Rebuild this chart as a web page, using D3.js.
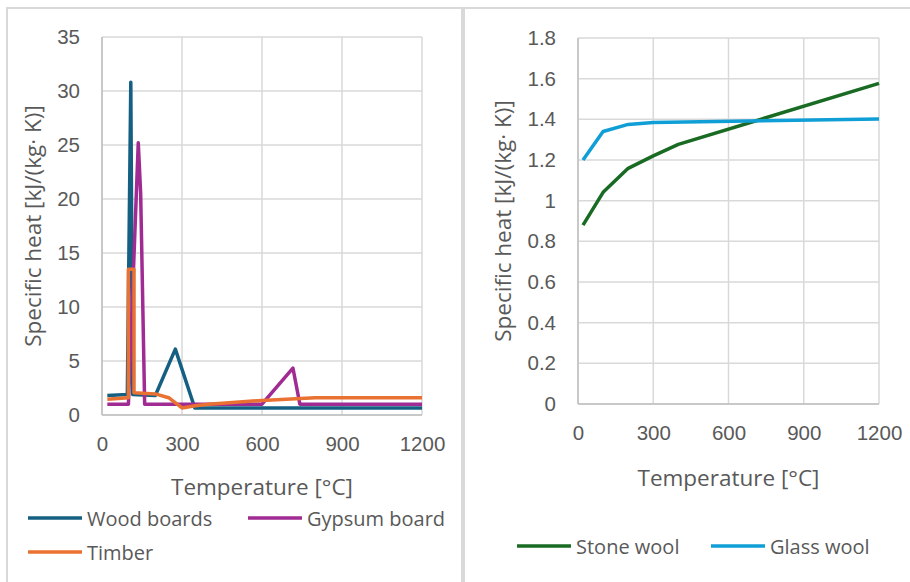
<!DOCTYPE html>
<html>
<head>
<meta charset="utf-8">
<script src="https://cdn.jsdelivr.net/npm/d3@7"></script>
<style>
    body { margin: 0; background: #fff; }
    svg { display: block; font-family: "Open Sans", sans-serif; }
    .tick text { fill: #595959; font-size: 20.5px; }
    .title { fill: #595959; font-size: 22.5px; }
    .legend text { fill: #595959; font-size: 20px; }
</style>
</head>
<body>
<svg id="chart" width="910" height="582"></svg>
<script>
// temperatures / values
var wood_t = [20, 95, 108, 115, 200, 275, 348, 1200];
var wood_v = [1.8, 1.9, 30.8, 1.9, 1.8, 6.1, 0.65, 0.65];
var gypsum_t = [20, 99, 136, 145, 160, 600, 716, 742, 1200];
var gypsum_v = [1.0, 1.0, 25.2, 20.5, 1.0, 1.0, 4.35, 1.0, 1.0];
var timber_t = [20, 99, 99, 120, 120, 200, 250, 300, 350, 400, 600, 800, 1200];
var timber_v = [1.45, 1.6, 13.5, 13.5, 2.05, 1.95, 1.6, 0.65, 0.85, 1.0, 1.35, 1.6, 1.6];

var stone_t = [20, 100, 200, 300, 400, 1200];
var stone_v = [0.88, 1.041, 1.159, 1.22, 1.277, 1.577];
var glass_t = [20, 100, 200, 300, 1200];
var glass_v = [1.2, 1.34, 1.375, 1.384, 1.402];

var x_ticks = [0, 300, 600, 900, 1200];
var left_y_ticks = [0, 5, 10, 15, 20, 25, 30, 35];
var right_y_ticks = [0, 0.2, 0.4, 0.6, 0.8, 1, 1.2, 1.4, 1.6, 1.8];

var x_title = 'Temperature [°C]';
var y_title = 'Specific heat [kJ/(kg· K)]';

function zip(t, v) {
    return t.map(function (d, i) { return [d, v[i]]; });
}

var svg = d3.select('#chart');

// panel borders
svg.append('rect').attr('x', 7).attr('y', 8).attr('width', 455).attr('height', 600)
    .attr('fill', 'none').attr('stroke', '#d9d9d9').attr('stroke-width', 2);
svg.append('rect').attr('x', 464).attr('y', 8).attr('width', 460).attr('height', 600)
    .attr('fill', 'none').attr('stroke', '#d9d9d9').attr('stroke-width', 2);

function draw_chart(c) {
    var x = d3.scaleLinear().domain([0, 1200]).range([c.x0, c.x1]);
    var y = d3.scaleLinear().domain([0, c.ymax]).range([c.y0, c.y1]);
    var g = svg.append('g');

    // grid
    g.append('g').selectAll('line').data(c.yticks).enter().append('line')
        .attr('x1', c.x0).attr('x2', c.x1)
        .attr('y1', function (d) { return y(d); }).attr('y2', function (d) { return y(d); })
        .attr('stroke', '#d9d9d9').attr('stroke-width', 1.5);
    g.append('g').selectAll('line').data(x_ticks).enter().append('line')
        .attr('y1', c.y0).attr('y2', c.y1)
        .attr('x1', function (d) { return x(d); }).attr('x2', function (d) { return x(d); })
        .attr('stroke', '#d9d9d9').attr('stroke-width', 1.5);

    // axis lines
    g.append('line').attr('x1', c.x0).attr('x2', c.x0).attr('y1', c.y0).attr('y2', c.y1)
        .attr('stroke', '#bfbfbf').attr('stroke-width', 1.5);
    g.append('line').attr('x1', c.x0).attr('x2', c.x1).attr('y1', c.y0).attr('y2', c.y0)
        .attr('stroke', '#bfbfbf').attr('stroke-width', 1.5);

    g.append('g')
        .attr('transform', 'translate(' + (c.x0 - 22) + ',0)')
        .call(d3.axisLeft(y).tickValues(c.yticks).tickSize(0).tickPadding(0).tickFormat(d3.format('')))
        .call(function (a) { a.select('.domain').remove(); });

    g.append('g')
        .attr('transform', 'translate(0,' + (c.y0 + 21) + ')')
        .call(d3.axisBottom(x).tickValues(x_ticks).tickSize(0).tickPadding(0).tickFormat(d3.format('')))
        .call(function (a) {
            a.select('.domain').remove();
            a.selectAll('text').attr('dy', '0.71em').attr('y', 0);
        });

    g.append('text').attr('class', 'title')
        .attr('x', (c.x0 + c.x1) / 2).attr('y', c.y0 + c.xtitle_dy)
        .attr('text-anchor', 'middle').attr('dominant-baseline', 'central')
        .text(x_title);
    g.append('text').attr('class', 'title')
        .attr('transform', 'translate(' + c.ytitle_x + ',' + (c.y0 + c.y1) / 2 + ') rotate(-90)')
        .attr('text-anchor', 'middle').attr('dominant-baseline', 'central')
        .text(y_title);

    var line = d3.line()
        .x(function (d) { return x(d[0]); })
        .y(function (d) { return y(d[1]); });

    c.series.forEach(function (s) {
        g.append('path')
            .datum(s.data)
            .attr('fill', 'none')
            .attr('stroke', s.color)
            .attr('stroke-width', 3.5)
            .attr('stroke-linejoin', 'round')
            .attr('d', line);

        var lg = g.append('g').attr('class', 'legend')
            .attr('transform', 'translate(' + s.lx + ',' + s.ly + ')');
        lg.append('line').attr('x1', 0).attr('x2', 54).attr('y1', 0).attr('y2', 0)
            .attr('stroke', s.color).attr('stroke-width', 3.5);
        lg.append('text').attr('x', 59).attr('y', 0)
            .attr('dominant-baseline', 'central')
            .text(s.name);
    });
}

draw_chart({
    x0: 102, x1: 422, y0: 415, y1: 37, ymax: 35,
    yticks: left_y_ticks, xtitle_dy: 71, ytitle_x: 32,
    series: [
        {name: 'Wood boards', color: '#156082', data: zip(wood_t, wood_v), lx: 28, ly: 518},
        {name: 'Gypsum board', color: '#A02B93', data: zip(gypsum_t, gypsum_v), lx: 248, ly: 518},
        {name: 'Timber', color: '#E97132', data: zip(timber_t, timber_v), lx: 28, ly: 552}
    ]
});

draw_chart({
    x0: 578, x1: 879, y0: 404, y1: 38, ymax: 1.8,
    yticks: right_y_ticks, xtitle_dy: 73, ytitle_x: 502,
    series: [
        {name: 'Stone wool', color: '#196B24', data: zip(stone_t, stone_v), lx: 517, ly: 546},
        {name: 'Glass wool', color: '#0F9ED5', data: zip(glass_t, glass_v), lx: 711, ly: 546}
    ]
});
</script>
</body>
</html>
